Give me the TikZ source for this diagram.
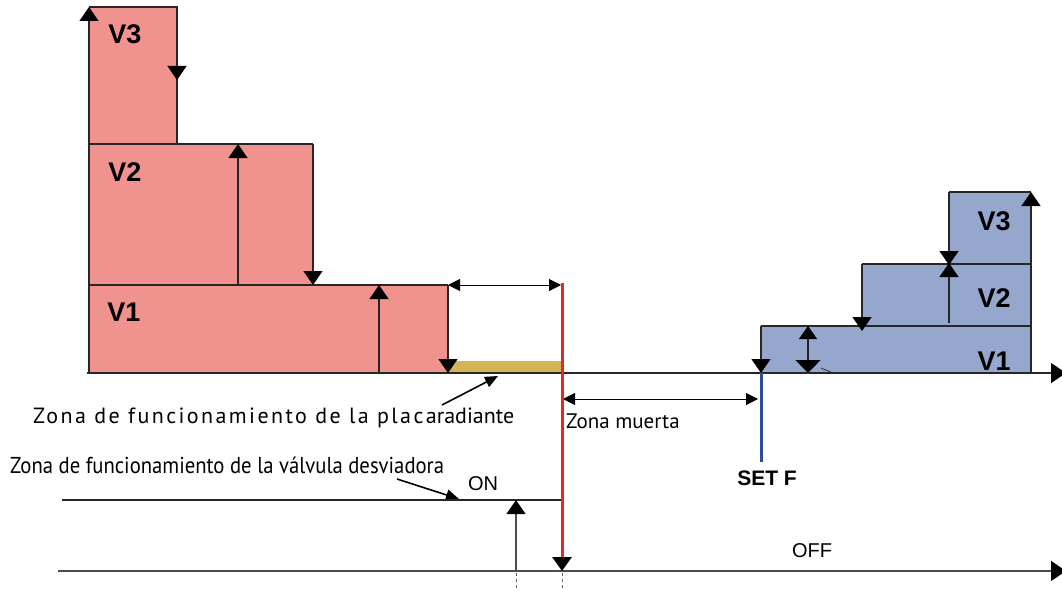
\documentclass[tikz,border=0pt]{standalone}
\usepackage{fontspec}
\setmainfont{Liberation Sans}
\newfontfamily\myriad{PT Sans}
\newfontfamily\myriadcond[FakeStretch=0.9]{PT Sans}
\usepackage{xcolor}
\usetikzlibrary{arrows.meta, positioning, calc}

\definecolor{redzone}{RGB}{240,146,142}
\definecolor{bluezone}{RGB}{150,167,206}
\definecolor{goldbar}{RGB}{212,180,84}
\definecolor{redline}{RGB}{232,38,40}
\definecolor{blueline}{RGB}{44,76,160}

\tikzset{
  edge/.style={draw=black!85, line width=1.2pt},
  bigtip/.style={-{Triangle[black,length=14pt,width=19pt]}},
  axistip/.style={-{Triangle[black,length=15pt,width=20pt]}},
  dimline/.style={draw=black, line width=1pt, {Triangle[length=12pt,width=12pt]}-{Triangle[length=12pt,width=12pt]}},
  vlabel/.style={font=\fontsize{27}{30}\selectfont\bfseries},
  txt/.style={font=\myriad\fontsize{21}{24}\selectfont, inner sep=0pt},
}

\begin{document}
\begin{tikzpicture}[x=1pt, y=-1pt]
  \useasboundingbox (0,0) rectangle (1062,591);

  % red steps
  \fill[redzone] (89,7) rectangle (177,144);
  \fill[redzone] (89,144) rectangle (313,285);
  \fill[redzone] (89,285) rectangle (448,373);
  \fill[goldbar] (448,361) rectangle (561,373);
  \draw[edge] (89,7) -- (177,7) -- (177,144);
  \draw[edge] (89,144) -- (313,144);
  \draw[edge] (89,285) -- (448,285);
  \draw[edge, bigtip] (89,373) -- (89,7);
  \draw[edge, bigtip] (177,7) -- (177,80);
  \draw[edge, bigtip] (238,285) -- (238,144);
  \draw[edge, bigtip] (313,144) -- (313,285);
  \draw[edge, bigtip] (379,373) -- (379,285);
  \draw[edge, bigtip] (448,285) -- (448,373);
  \node[vlabel] (r3) at (125,34) {V3};
  \node[vlabel] (r2) at (125,172) {V2};
  \node[vlabel] (r1) at (124,312) {V1};

  % blue steps
  \fill[bluezone] (761,326) rectangle (1031,373);
  \fill[bluezone] (862,264) rectangle (1031,326);
  \fill[bluezone] (949,192) rectangle (1031,264);
  \draw[edge] (949,192) -- (1031,192);
  \draw[edge] (862,264) -- (1031,264);
  \draw[edge] (761,326) -- (1031,326);
  \draw[edge, bigtip] (1031,373) -- (1031,192);
  \draw[edge, bigtip] (761,326) -- (761,373);
  \draw[edge, bigtip] (862,264) -- (862,331);
  \draw[edge, bigtip] (949,192) -- (949,265);
  \draw[edge, bigtip] (949,323) -- (949,263);
  \draw[edge, {Triangle[black,length=13pt,width=18pt]}-{Triangle[black,length=13pt,width=25pt]}] (808,326) -- (808,373);
  \draw[black!80, line width=0.8pt] (821,368) -- (833,373);
  \node[vlabel] (b3) at (994,221) {V3};
  \node[vlabel] (b2) at (994,298) {V2};
  \node[vlabel] (b1) at (994,361) {V1};

  % axis and set points
  \draw[edge, axistip] (87,373) -- (1066,373);
  \draw[dimline] (448,285) -- (561,285);
  \draw[dimline] (563,399) -- (758,399);
  \draw[blueline, line width=3pt] (761,373) -- (761,462);
  \node[font=\fontsize{21}{24}\selectfont\bfseries] (setf) at (767,478) {SET F};

  % texts and pointers
  \node[txt, font=\myriad\fontsize{22}{24}\selectfont, anchor=base west] (placa) at (33,423)
    {{\addfontfeature{LetterSpace=11}Zona de funcionamiento de la placa}radiante};
  \node[txt, anchor=base west] (muerta) at (566,428) {Zona muerta};
  \node[txt, font=\myriadcond\fontsize{23}{25}\selectfont, anchor=base west] (valvula) at (10,473)
    {Zona de funcionamiento de la válvula desviadora};
  \node[font=\fontsize{20}{22}\selectfont] (on) at (483,484) {ON};
  \node[font=\fontsize{20}{22}\selectfont] (off) at (812,551) {OFF};
  \coordinate (placaFrom) at (442,405);
  \coordinate (placaTo) at (498,376);
  \coordinate (valvFrom) at (397,479);
  \coordinate (valvTo) at (459,499);
  \draw[line width=1.6pt, -{Triangle[length=13pt,width=11pt]}] (placaFrom) -- (placaTo);
  \draw[line width=1.6pt, -{Triangle[length=13pt,width=11pt]}] (valvFrom) -- (valvTo);

  % valve switching lines
  \draw[edge] (62,500) -- (562,500);
  \draw[edge, draw=black!70, axistip] (58,571) -- (1066,571);
  \draw[edge, draw=black!70, bigtip] (516,571) -- (516,500);
  \draw[redline, line width=3pt, -{Triangle[black,length=14pt,width=19pt]}] (562,283) -- (562,571);
  \draw[black!60, line width=1pt, dashed] (516,573) -- (516,591);
  \draw[black!60, line width=1pt, dashed] (562,573) -- (562,591);
\end{tikzpicture}
\end{document}
